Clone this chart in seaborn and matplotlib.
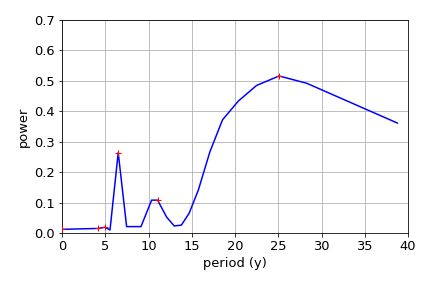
import matplotlib
matplotlib.use('Agg')
import matplotlib.pyplot as plt
import pandas as pd
import seaborn as sns

sns.set_style("ticks")
plt.rcParams['font.family'] = ['DejaVu Sans']
plt.rcParams['font.size'] = 13
plt.rcParams['text.color'] = 'black'
plt.rcParams['axes.labelcolor'] = 'black'
plt.rcParams['xtick.color'] = 'black'
plt.rcParams['ytick.color'] = 'black'

# Power spectrum
period = [0.0, 4.2, 4.97, 5.55, 6.5, 7.47, 9.13, 10.36, 11.05, 12.1, 12.98,
          13.8, 14.7, 15.76, 17.1, 18.56, 20.4, 22.5, 25.1, 28.3, 38.8]
power = [0.012, 0.015, 0.019, 0.01, 0.264, 0.021, 0.021, 0.108, 0.108, 0.052,
         0.023, 0.026, 0.065, 0.141, 0.267, 0.372, 0.434, 0.485, 0.516, 0.492,
         0.361]

# Peaks marked with red crosses
peak_period = [0.0, 4.2, 4.97, 6.5, 11.05, 25.1]
peak_power = [0.012, 0.015, 0.019, 0.264, 0.108, 0.516]

df = pd.DataFrame({'period': period, 'power': power})
peaks = pd.DataFrame({'period': peak_period, 'power': peak_power})

fig, ax = plt.subplots(figsize=(6, 4), dpi=72)
fig.subplots_adjust(left=62/432, right=408/432, bottom=1-233/288, top=1-20/288)
sns.lineplot(x='period', y='power', data=df, sort=False, color='blue',
             linewidth=1.5, ax=ax, zorder=2)
sns.scatterplot(x='period', y='power', data=peaks, marker='+', color='red',
                s=40, linewidth=1.0, ax=ax, zorder=3)

ax.set_xlim(0, 40)
ax.set_ylim(0, 0.7)
ax.set_xlabel('period (y)')
ax.set_ylabel('power')
ax.grid(True, color='#b0b0b0', linewidth=0.8)
ax.tick_params(direction='out', length=3.5)
for s in ax.spines.values():
    s.set_color('black')
    s.set_linewidth(0.8)

plt.savefig('out.png', dpi=72)
plt.close()
